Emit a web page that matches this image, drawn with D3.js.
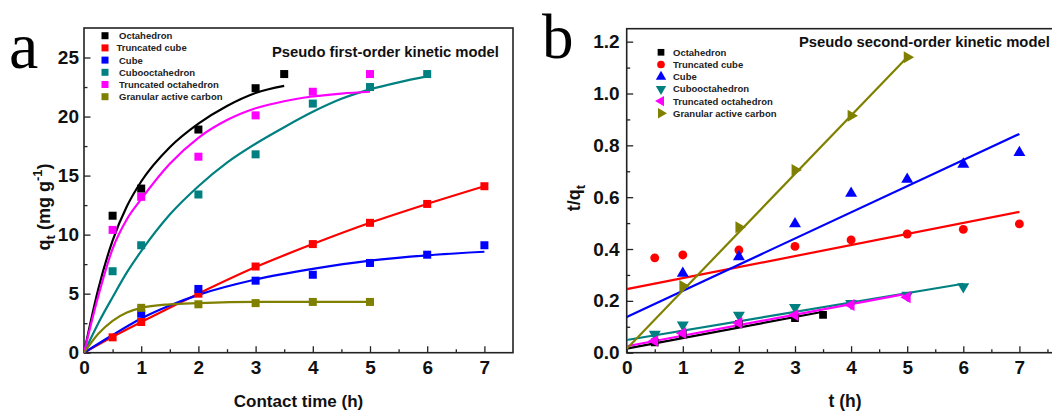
<!DOCTYPE html>
<html>
<head>
<meta charset="utf-8">
<script src="https://cdn.jsdelivr.net/npm/d3@7"></script>
<style>
  html, body { margin: 0; padding: 0; background: #fff; }
  svg { display: block; font-family: "Liberation Sans", Arial, sans-serif; }
</style>
</head>
<body>
<svg id="chart" width="1052" height="412"></svg>
<script>
// series names (same order in both panels)
const names = ['Octahedron', 'Truncated cube', 'Cube', 'Cubooctahedron', 'Truncated octahedron', 'Granular active carbon'];
const colors = ['#000000', '#ff0000', '#0000ff', '#008080', '#ff00ff', '#808000'];

// panel a: measured q_t (mg/g) vs contact time (h)
const aOctT = [0.5, 1, 2, 3, 3.5];            const aOctQ = [11.6, 13.9, 18.9, 22.4, 23.6];
const aTcT  = [0.5, 1, 2, 3, 4, 5, 6, 7];     const aTcQ  = [1.3, 2.6, 5.0, 7.3, 9.2, 11.0, 12.6, 14.1];
const aCubT = [1, 2, 3, 4, 5, 6, 7];          const aCubQ = [3.3, 5.4, 6.1, 6.6, 7.6, 8.3, 9.1];
const aCoT  = [0.5, 1, 2, 3, 4, 5, 6];        const aCoQ  = [6.9, 9.1, 13.4, 16.8, 21.1, 22.5, 23.6];
const aToT  = [0.5, 1, 2, 3, 4, 5];           const aToQ  = [10.4, 13.2, 16.6, 20.1, 22.1, 23.6];
const aGacT = [1, 2, 3, 4, 5];                const aGacQ = [3.8, 4.1, 4.2, 4.3, 4.3];

// panel a: fitted curves
const fOctT = [0, 0.25, 0.5, 0.75, 1, 1.5, 2, 2.5, 3, 3.5];
const fOctQ = [0, 5.4, 9.5, 12.4, 14.5, 17.4, 19.4, 20.9, 22.0, 22.6];
const fTcT  = [0, 0.5, 1, 2, 3, 4, 5, 6, 7];
const fTcQ  = [0, 1.35, 2.6, 5.0, 7.25, 9.2, 11.0, 12.6, 14.1];
const fCubT = [0, 0.5, 1, 1.5, 2, 3, 4, 5, 6, 7];
const fCubQ = [0, 1.5, 2.9, 4.0, 4.9, 6.2, 7.1, 7.8, 8.25, 8.55];
const fCoT  = [0, 0.25, 0.5, 0.75, 1, 1.5, 2, 2.5, 3, 3.5, 4, 4.5, 5, 5.5, 6];
const fCoQ  = [0, 2.5, 4.7, 6.8, 8.6, 11.7, 14.1, 16.1, 17.7, 19.1, 20.4, 21.5, 22.3, 22.9, 23.4];
const fToT  = [0, 0.25, 0.5, 0.75, 1, 1.5, 2, 2.5, 3, 3.5, 4, 4.5, 5];
const fToQ  = [0, 4.8, 8.8, 11.3, 13.0, 16.0, 18.2, 19.7, 20.7, 21.3, 21.7, 21.95, 22.1];
const fGacT = [0, 0.25, 0.5, 0.75, 1, 1.5, 2, 3, 4, 5];
const fGacQ = [0, 1.6, 2.7, 3.4, 3.8, 4.1, 4.2, 4.3, 4.3, 4.3];

// panel b: t/q_t vs t (h)
const bOctT = [0.5, 1, 2, 3, 3.5];            const bOctV = [0.04, 0.07, 0.11, 0.133, 0.146];
const bTcT  = [0.5, 1, 2, 3, 4, 5, 6, 7];     const bTcV  = [0.366, 0.377, 0.396, 0.41, 0.435, 0.458, 0.476, 0.497];
const bCubT = [1, 2, 3, 4, 5, 6, 7];          const bCubV = [0.306, 0.37, 0.497, 0.615, 0.669, 0.727, 0.772];
const bCoT  = [0.5, 1, 2, 3, 4, 5, 6];        const bCoV  = [0.071, 0.107, 0.145, 0.175, 0.19, 0.222, 0.255];
const bToT  = [0.5, 1, 2, 3, 4, 5];           const bToV  = [0.045, 0.075, 0.115, 0.145, 0.184, 0.214];
const bGacT = [1, 2, 3, 4, 5];                const bGacV = [0.257, 0.484, 0.705, 0.914, 1.14];

// panel b: linear fits, [t start, t end] and [value start, value end]
const lOctT = [0, 3.5];  const lOctV = [0.016, 0.158];
const lTcT  = [0, 7];    const lTcV  = [0.245, 0.543];
const lCubT = [0, 7];    const lCubV = [0.138, 0.844];
const lCoT  = [0, 6];    const lCoV  = [0.049, 0.266];
const lToT  = [0, 5];    const lToV  = [0.025, 0.228];
const lGacT = [0, 5];    const lGacV = [0.015, 1.14];

const ticksA = { x: [0, 1, 2, 3, 4, 5, 6, 7], y: [0, 5, 10, 15, 20, 25] };
const ticksB = { x: [0, 1, 2, 3, 4, 5, 6, 7], y: [0, 0.2, 0.4, 0.6, 0.8, 1.0, 1.2] };

const zip = (ts, vs) => ts.map((t, i) => [t, vs[i]]);

const pointsA = [zip(aOctT, aOctQ), zip(aTcT, aTcQ), zip(aCubT, aCubQ), zip(aCoT, aCoQ), zip(aToT, aToQ), zip(aGacT, aGacQ)];
const fitsA = [zip(fOctT, fOctQ), zip(fTcT, fTcQ), zip(fCubT, fCubQ), zip(fCoT, fCoQ), zip(fToT, fToQ), zip(fGacT, fGacQ)];
const pointsB = [zip(bOctT, bOctV), zip(bTcT, bTcV), zip(bCubT, bCubV), zip(bCoT, bCoV), zip(bToT, bToV), zip(bGacT, bGacV)];
const fitsB = [zip(lOctT, lOctV), zip(lTcT, lTcV), zip(lCubT, lCubV), zip(lCoT, lCoV), zip(lToT, lToV), zip(lGacT, lGacV)];

const svg = d3.select('#chart');
const axisColor = '#222';

// symbol shapes for panel b
const shapesB = [
  { type: d3.symbolSquare, rot: 0, size: 60 },
  { type: d3.symbolCircle, rot: 0, size: 62 },
  { type: d3.symbolTriangle, rot: 0, size: 62 },
  { type: d3.symbolTriangle, rot: 180, size: 62 },
  { type: d3.symbolTriangle, rot: -90, size: 62 },
  { type: d3.symbolTriangle, rot: 90, size: 62 }
];

function drawPanel(opt) {
  const { x, y, clipId } = opt;
  const g = svg.append('g');
  const [x0, x1] = x.range();
  const [y0, y1] = y.range();

  g.append('clipPath').attr('id', clipId)
    .append('rect').attr('x', x0).attr('y', y1).attr('width', x1 - x0).attr('height', y0 - y1);

  // minor ticks
  g.append('g').attr('transform', `translate(0,${y0})`)
    .call(d3.axisBottom(x).tickValues(opt.xMinor).tickSize(-3.5).tickFormat(''))
    .call(s => s.select('.domain').remove())
    .call(s => s.selectAll('line').attr('stroke', axisColor).attr('stroke-width', 1.3));
  g.append('g').attr('transform', `translate(${x0},0)`)
    .call(d3.axisLeft(y).tickValues(opt.yMinor).tickSize(-3.5).tickFormat(''))
    .call(s => s.select('.domain').remove())
    .call(s => s.selectAll('line').attr('stroke', axisColor).attr('stroke-width', 1.3));

  // major ticks + labels
  g.append('g').attr('transform', `translate(0,${y0})`)
    .call(d3.axisBottom(x).tickValues(opt.xTicks).tickSize(-6.5).tickPadding(8).tickFormat(d3.format('d')))
    .call(s => s.select('.domain').remove())
    .call(s => s.selectAll('line').attr('stroke', axisColor).attr('stroke-width', 1.3))
    .call(s => s.selectAll('text').attr('fill', '#111').style('font-size', '19px').style('font-weight', 'bold'));
  g.append('g').attr('transform', `translate(${x0},0)`)
    .call(d3.axisLeft(y).tickValues(opt.yTicks).tickSize(-6.5).tickPadding(opt.yPad).tickFormat(opt.yFormat))
    .call(s => s.select('.domain').remove())
    .call(s => s.selectAll('line').attr('stroke', axisColor).attr('stroke-width', 1.3))
    .call(s => s.selectAll('text').attr('fill', '#111').style('font-size', '19px').style('font-weight', 'bold'));

  // frame
  g.append('rect')
    .attr('x', x0).attr('y', y1).attr('width', x1 - x0).attr('height', y0 - y1)
    .attr('fill', 'none').attr('stroke', axisColor).attr('stroke-width', 1.6);

  return g.append('g').attr('clip-path', `url(#${clipId})`);
}

// ---------- panel a ----------
const xA = d3.scaleLinear().domain([0, 7.5]).range([84, 513]);
const yA = d3.scaleLinear().domain([0, 27.5]).range([352.7, 28]);

const plotA = drawPanel({
  x: xA, y: yA, clipId: 'clipA',
  xTicks: ticksA.x, yTicks: ticksA.y,
  xMinor: d3.range(0.5, 7.5, 1), yMinor: d3.range(2.5, 27.5, 5),
  yPad: 5, yFormat: d3.format('d')
});

const lineA = d3.line().x(d => xA(d[0])).y(d => yA(d[1])).curve(d3.curveMonotoneX);

fitsA.forEach((pts, i) => {
  plotA.append('path').datum(pts)
    .attr('d', lineA).attr('fill', 'none')
    .attr('stroke', colors[i]).attr('stroke-width', 2.2);
});
pointsA.forEach((pts, i) => {
  plotA.selectAll(null).data(pts).enter().append('rect')
    .attr('x', d => xA(d[0]) - 4).attr('y', d => yA(d[1]) - 4)
    .attr('width', 8).attr('height', 8)
    .attr('fill', colors[i]);
});

// legend a
names.forEach((n, i) => {
  const ly = 35.7 + i * 12.2;
  svg.append('rect').attr('x', 101.5).attr('y', ly - 3.5).attr('width', 7).attr('height', 7).attr('fill', colors[i]);
  svg.append('text').attr('x', i === 1 ? 116.5 : 119).attr('y', ly + 3.4)
    .style('font-size', '9.5px').style('font-weight', 'bold').attr('fill', '#222').text(n);
});

svg.append('text').attr('x', 272).attr('y', 57)
  .style('font-size', '14.8px').style('font-weight', 'bold').attr('fill', '#111')
  .text('Pseudo first-order kinetic model');

// axis titles a
svg.append('text').attr('x', 298.5).attr('y', 407).attr('text-anchor', 'middle')
  .style('font-size', '17px').style('font-weight', 'bold').attr('fill', '#111')
  .text('Contact time (h)');

const yTitleA = svg.append('text')
  .attr('transform', 'translate(50,207) rotate(-90)').attr('text-anchor', 'middle')
  .style('font-size', '18px').style('font-weight', 'bold').attr('fill', '#111');
yTitleA.append('tspan').text('q');
yTitleA.append('tspan').attr('dy', 5).style('font-size', '13px').text('t');
yTitleA.append('tspan').attr('dy', -5).text(' (mg g');
yTitleA.append('tspan').attr('dy', -8).style('font-size', '13px').text('-1');
yTitleA.append('tspan').attr('dy', 8).text(')');

svg.append('text').attr('x', 9).attr('y', 68)
  .style('font-family', '"Liberation Serif", "Times New Roman", serif').style('font-size', '66px')
  .attr('fill', '#000').text('a');

// ---------- panel b ----------
const xB = d3.scaleLinear().domain([0, 7.6]).range([626.7, 626.7 + 7.6 * 56.1]);
const yB = d3.scaleLinear().domain([0, 1.25]).range([352.7, 28.7]);

const plotB = drawPanel({
  x: xB, y: yB, clipId: 'clipB',
  xTicks: ticksB.x, yTicks: ticksB.y,
  xMinor: d3.range(0.5, 7.6, 1), yMinor: d3.range(0.1, 1.25, 0.2),
  yPad: 7, yFormat: d3.format('.1f')
});

const lineB = d3.line().x(d => xB(d[0])).y(d => yB(d[1]));

fitsB.forEach((pts, i) => {
  plotB.append('path').datum(pts)
    .attr('d', lineB).attr('fill', 'none')
    .attr('stroke', colors[i]).attr('stroke-width', 2.2);
});
pointsB.forEach((pts, i) => {
  const s = shapesB[i];
  plotB.selectAll(null).data(pts).enter().append('path')
    .attr('d', d3.symbol().type(s.type).size(s.size))
    .attr('transform', d => `translate(${xB(d[0])},${yB(d[1])}) rotate(${s.rot})`)
    .attr('fill', colors[i]);
});

// legend b
names.forEach((n, i) => {
  const ly = 52.3 + i * 12.2;
  const s = shapesB[i];
  svg.append('path').attr('d', d3.symbol().type(s.type).size(s.size * 0.75))
    .attr('transform', `translate(661,${ly}) rotate(${s.rot})`).attr('fill', colors[i]);
  svg.append('text').attr('x', 673).attr('y', ly + 3.4)
    .style('font-size', '9.5px').style('font-weight', 'bold').attr('fill', '#222').text(n);
});

svg.append('text').attr('x', 799).attr('y', 47)
  .style('font-size', '14.8px').style('font-weight', 'bold').attr('fill', '#111')
  .text('Pseudo second-order kinetic model');

svg.append('text').attr('x', 845).attr('y', 407).attr('text-anchor', 'middle')
  .style('font-size', '17.5px').style('font-weight', 'bold').attr('fill', '#111')
  .text('t (h)');

const yTitleB = svg.append('text')
  .attr('transform', 'translate(580,198) rotate(-90)').attr('text-anchor', 'middle')
  .style('font-size', '18px').style('font-weight', 'bold').attr('fill', '#111');
yTitleB.append('tspan').text('t/q');
yTitleB.append('tspan').attr('dy', 5).style('font-size', '13px').text('t');

svg.append('text').attr('x', 542).attr('y', 58)
  .style('font-family', '"Liberation Serif", "Times New Roman", serif').style('font-size', '63px')
  .attr('fill', '#000').text('b');
</script>
</body>
</html>
